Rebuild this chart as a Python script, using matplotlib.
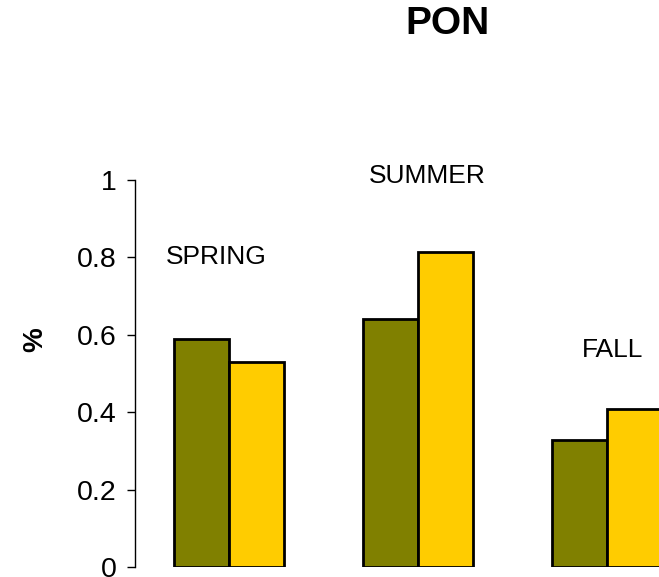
import matplotlib
matplotlib.use("Agg")
import matplotlib.pyplot as plt
import numpy as np

plt.rcParams['font.family'] = ['Liberation Sans', 'DejaVu Sans']

seasons = ["SPRING", "SUMMER", "FALL"]
series_a = [0.589, 0.641, 0.328]   # olive
series_b = [0.530, 0.814, 0.408]   # gold
label_y = [0.80, 1.01, 0.56]
yticks = [0, 0.2, 0.4, 0.6, 0.8, 1]
yticklabels = ["0", "0.2", "0.4", "0.6", "0.8", "1"]

W, H = 659, 577
fig = plt.figure(figsize=(W/100, H/100), dpi=100)
ax = fig.add_axes([135/W, 10/H, 1 - 135/W, 387/H])

x = np.arange(len(seasons))
w = 0.292
ax.bar(x - w/2, series_a, width=w, color="#808000", edgecolor="black", linewidth=2)
ax.bar(x + w/2, series_b, width=w, color="#FFCC00", edgecolor="black", linewidth=2)

offsets = {"SPRING": -0.07, "SUMMER": 0.05, "FALL": 0.03}
for xi, s, ly in zip(x, seasons, label_y):
    ax.text(xi + offsets[s], ly, s, ha="center", va="center", fontsize=19,
            clip_on=False)

ax.set_xlim(-0.5, 2.277)
ax.set_ylim(0, 1)
ax.set_yticks(yticks)
ax.set_yticklabels(yticklabels, fontsize=20.5)
ax.set_xticks([])
for sp in ["top", "right", "bottom"]:
    ax.spines[sp].set_visible(False)
ax.spines["left"].set_linewidth(1)
ax.tick_params(axis="y", direction="out", length=6, width=1, pad=7)

fig.text(448/W, 1 - 24/H, "PON", ha="center", va="center", fontsize=28, fontweight="bold")
fig.text(35/W, 1 - 340/H, "%", ha="center", va="center", fontsize=20, fontweight="bold", rotation=90)

fig.savefig("out.png", dpi=100)
